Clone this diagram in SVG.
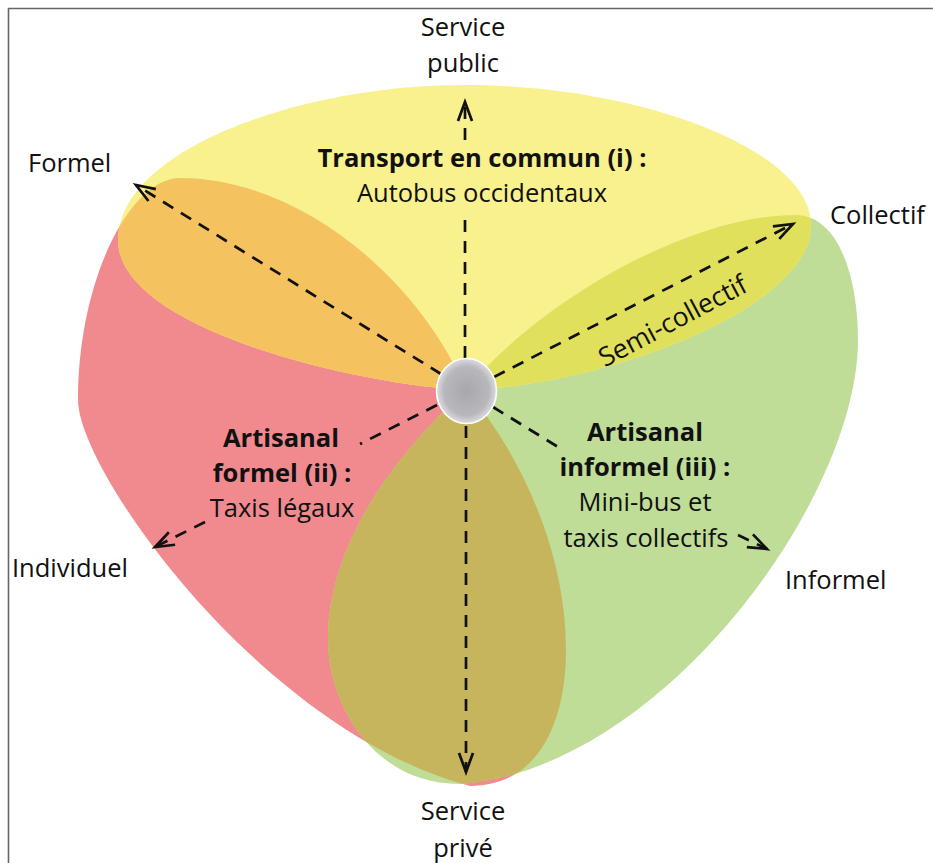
<svg xmlns="http://www.w3.org/2000/svg" xmlns:xlink="http://www.w3.org/1999/xlink" width="933" height="863" viewBox="0 0 933 863">
<style>
text{font-family:"Open Sans","Liberation Sans",sans-serif;font-size:25.5px;fill:#111}
.b{font-weight:bold}
.m{text-anchor:middle}
.dash{fill:none;stroke:#111;stroke-width:2.7;stroke-dasharray:12 9}
</style>
<defs>
<path id="pY" d="M466,390 C360,385 118,330 118,240 C118,150 300,85 464,85 C640,85 811,150 811,225 C811,310 600,386 466,390 Z"/>
<path id="pR" d="M466,390 C420,280 300,178 180,178 C130,178 78,280 78,400 C78,470 260,730 470,786 C540,786 566,720 566,650 C566,540 510,440 466,390 Z"/>
<path id="pG" d="M466,390 C540,300 690,215 795,215 C840,215 858,280 858,340 C858,500 660,770 460,784 C370,784 328,700 328,640 C328,540 400,450 466,390 Z"/>
<clipPath id="cR"><use xlink:href="#pR"/></clipPath>
<clipPath id="cG"><use xlink:href="#pG"/></clipPath>
<radialGradient id="hub" cx="50%" cy="50%" r="50%">
<stop offset="0" stop-color="#a8a8ac"/>
<stop offset="0.75" stop-color="#b8b8bc"/>
<stop offset="1" stop-color="#dcdce0"/>
</radialGradient>
<marker id="ah" markerUnits="userSpaceOnUse" viewBox="-22 -10 26 20" refX="0" refY="0" markerWidth="26" markerHeight="20" orient="auto" overflow="visible">
<path d="M-19,-7 L0,0 L-19,7" fill="none" stroke="#111" stroke-width="2.7" stroke-dasharray="none" stroke-linejoin="miter"/>
</marker>
</defs>
<path id="frame" d="M8.5,863 V8.5 H933" fill="none" stroke="#666" stroke-width="1.6"/>
<g id="petal-red"><use xlink:href="#pR" fill="#F08A8E"/></g>
<g id="petal-green"><use xlink:href="#pG" fill="#C0DD98"/></g>
<g id="petal-yellow"><use xlink:href="#pY" fill="#F8F18E"/></g>
<g id="overlap-orange" clip-path="url(#cR)"><use xlink:href="#pY" fill="#F4C25E"/></g>
<g id="overlap-lime" clip-path="url(#cG)"><use xlink:href="#pY" fill="#E0E05C"/></g>
<g id="overlap-olive" clip-path="url(#cG)"><use xlink:href="#pR" fill="#C6B55C"/></g>
<g id="connectors">
<path class="dash" d="M465,358 V212"/>
<path class="dash" d="M465,140 V102" marker-end="url(#ah)"/>
<path class="dash" d="M466,426 V772" marker-end="url(#ah)"/>
<path class="dash" d="M441,374 L136,185" marker-end="url(#ah)"/>
<path class="dash" d="M494,377 L793,224" marker-end="url(#ah)"/>
<path class="dash" d="M437,405 L360,444"/>
<path class="dash" d="M205,522 L155,547" marker-end="url(#ah)"/>
<path class="dash" d="M493,407 L563,450"/>
<path class="dash" d="M738,535 L767,549" marker-end="url(#ah)" stroke-dasharray="12 6"/>
</g>
<g id="hub-node"><ellipse cx="466.5" cy="391" rx="30" ry="32.5" fill="url(#hub)" stroke="#fff" stroke-width="1.5"/></g>
<g id="label-public"><text class="m" x="463" y="36">Service</text><text class="m" x="463" y="72">public</text></g>
<g id="label-prive"><text class="m" x="463" y="820">Service</text><text class="m" x="463" y="857">privé</text></g>
<g id="label-formel"><text x="28" y="172">Formel</text></g>
<g id="label-collectif"><text x="830" y="224">Collectif</text></g>
<g id="label-individuel"><text x="12" y="577">Individuel</text></g>
<g id="label-informel"><text x="785" y="589">Informel</text></g>
<g id="node-transport"><text class="m b" x="482" y="167">Transport en commun (i) :</text><text class="m" x="482" y="202">Autobus occidentaux</text></g>
<g id="label-semi"><text class="m" transform="translate(677,329) rotate(-28)" style="font-size:26.5px">Semi-collectif</text></g>
<g id="node-formel"><text class="m b" x="281" y="447">Artisanal</text><text class="m b" x="282" y="482">formel (ii) :</text><text class="m" x="282" y="517">Taxis légaux</text></g>
<g id="node-informel"><text class="m b" x="645" y="441">Artisanal</text><text class="m b" x="645" y="476">informel (iii) :</text><text class="m" x="645" y="511">Mini-bus et</text><text class="m" x="646" y="547">taxis collectifs</text></g>
</svg>
